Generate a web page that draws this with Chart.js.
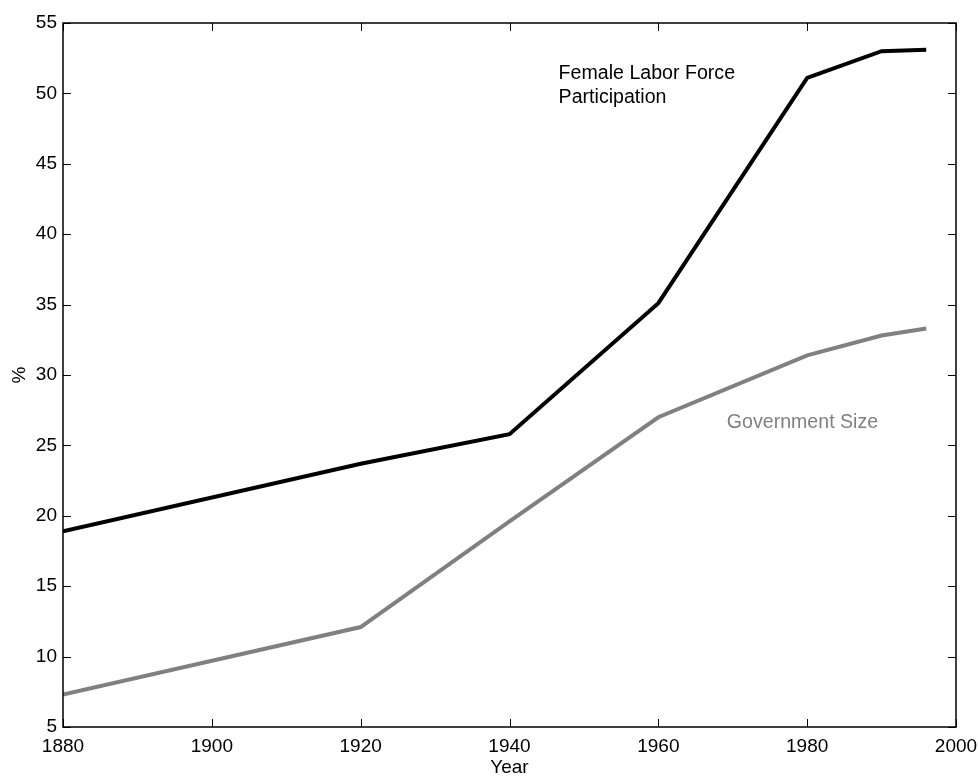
<!DOCTYPE html>
<html>
<head>
<meta charset="utf-8">
<script src="https://cdn.jsdelivr.net/npm/chart.js@4/dist/chart.umd.min.js"></script>
<style>
  html, body { margin: 0; padding: 0; background: #fff; }
  #wrap { width: 978px; height: 776px; }
</style>
</head>
<body>
<div id="wrap"><canvas id="chart" width="978" height="776"></canvas></div>
<script>
// 데이터
const years = [1880, 1920, 1940, 1960, 1980, 1990, 1996];
const femaleLabor = [18.9, 23.7, 25.8, 35.1, 51.1, 53.0, 53.1];
const govSize = [7.3, 12.1, 19.6, 27.0, 31.4, 32.8, 33.3];
const xTicks = [1880, 1900, 1920, 1940, 1960, 1980, 2000];
const yTicks = [5, 10, 15, 20, 25, 30, 35, 40, 45, 50, 55];

// 본문 라벨 (데이터 좌표)
const notes = [
    { text: 'Female Labor Force', x: 1946.6, y: 51.4, color: '#000' },
    { text: 'Participation', x: 1946.6, y: 49.7, color: '#000' },
    { text: 'Government Size', x: 1969.2, y: 26.6, color: '#808080' }
];

const FONT = 'Arial, "Liberation Sans", sans-serif';
const FSIZE = 19;

function toPoints(ys) {
    return years.map((yr, i) => ({ x: yr, y: ys[i] }));
}

// 안쪽 눈금 + 상자 테두리 + 텍스트
const boxPlugin = {
    id: 'boxTicks',
    afterDraw(chart) {
        const { ctx, chartArea: a, scales } = chart;
        const len = 8;
        ctx.save();
        ctx.strokeStyle = '#000';
        ctx.lineWidth = 1.5;
        ctx.strokeRect(a.left, a.top, a.right - a.left, a.bottom - a.top);
        ctx.lineWidth = 1;
        ctx.beginPath();
        xTicks.forEach(v => {
            const px = Math.round(scales.x.getPixelForValue(v)) + 0.5;
            ctx.moveTo(px, a.bottom); ctx.lineTo(px, a.bottom - len);
            ctx.moveTo(px, a.top); ctx.lineTo(px, a.top + len);
        });
        yTicks.forEach(v => {
            const py = Math.round(scales.y.getPixelForValue(v)) + 0.5;
            ctx.moveTo(a.left, py); ctx.lineTo(a.left + len, py);
            ctx.moveTo(a.right, py); ctx.lineTo(a.right - len, py);
        });
        ctx.stroke();

        ctx.font = '19.6px ' + FONT;
        ctx.textBaseline = 'middle';
        ctx.textAlign = 'left';
        notes.forEach(n => {
            ctx.fillStyle = n.color;
            ctx.fillText(n.text, scales.x.getPixelForValue(n.x), scales.y.getPixelForValue(n.y));
        });

        // 축 제목
        ctx.font = FSIZE + 'px ' + FONT;
        ctx.fillStyle = '#000';
        ctx.textAlign = 'center';
        ctx.fillText('Year', (a.left + a.right) / 2, 768);
        ctx.translate(20, (a.top + a.bottom) / 2);
        ctx.rotate(-Math.PI / 2);
        ctx.fillText('%', 0, 0);
        ctx.restore();
    }
};

new Chart(document.getElementById('chart'), {
    type: 'line',
    data: {
        datasets: [
            {
                label: 'Female Labor Force Participation',
                data: toPoints(femaleLabor),
                borderColor: '#000',
                borderWidth: 4,
                pointRadius: 0,
                tension: 0
            },
            {
                label: 'Government Size',
                data: toPoints(govSize),
                borderColor: '#808080',
                borderWidth: 4,
                pointRadius: 0,
                tension: 0
            }
        ]
    },
    options: {
        responsive: false,
        animation: false,
        layout: { padding: { top: 23, right: 22, left: 0, bottom: 0 } },
        plugins: {
            legend: { display: false },
            tooltip: { enabled: false }
        },
        scales: {
            x: {
                type: 'linear',
                min: 1880,
                max: 2000,
                afterBuildTicks: s => { s.ticks = xTicks.map(v => ({ value: v })); },
                afterFit: s => { s.height = 49; },
                grid: { display: false },
                border: { display: false },
                ticks: {
                    color: '#000',
                    font: { family: FONT, size: FSIZE },
                    padding: 0,
                    maxRotation: 0,
                    callback: v => String(v)
                }
            },
            y: {
                type: 'linear',
                min: 5,
                max: 55,
                afterBuildTicks: s => { s.ticks = yTicks.map(v => ({ value: v })); },
                afterFit: s => { s.width = 63; },
                grid: { display: false, drawTicks: false },
                border: { display: false },
                ticks: {
                    color: '#000',
                    font: { family: FONT, size: FSIZE },
                    padding: 6,
                    callback: v => String(v)
                }
            }
        }
    },
    plugins: [boxPlugin]
});
</script>
</body>
</html>
